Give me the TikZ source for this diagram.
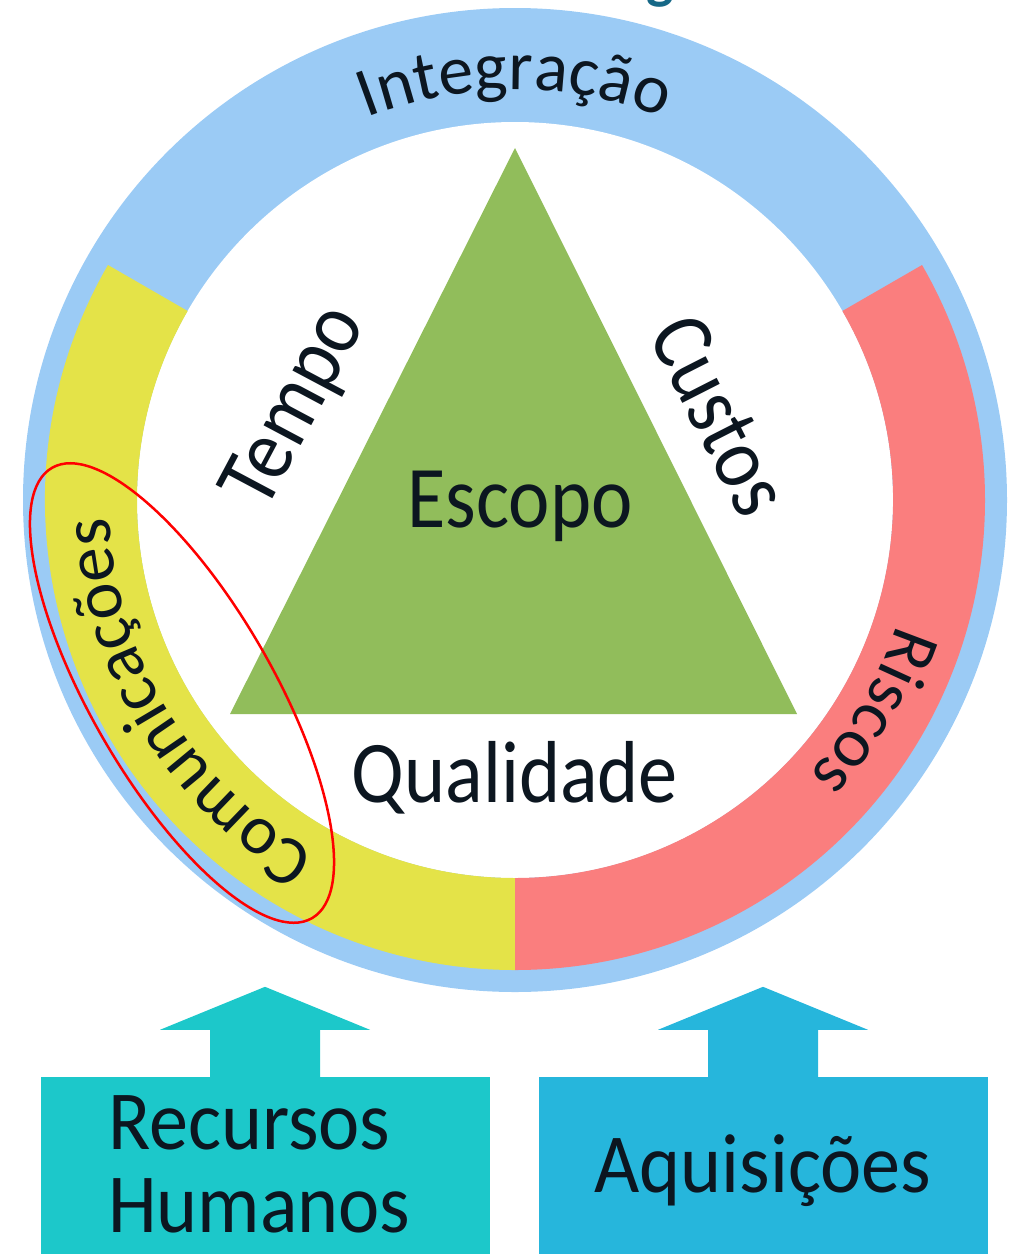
\documentclass[tikz,border=0pt]{standalone}
\usepackage{fontspec}
\setmainfont{Carlito}
\usetikzlibrary{decorations.text,shapes.geometric}
\definecolor{ringblue}{RGB}{155,203,245}
\definecolor{ringyellow}{RGB}{228,227,72}
\definecolor{ringred}{RGB}{250,126,126}
\definecolor{scopegreen}{RGB}{145,189,91}
\definecolor{hrteal}{RGB}{28,200,202}
\definecolor{acqblue}{RGB}{38,182,220}
\definecolor{inkdark}{RGB}{12,22,32}
\definecolor{titleteal}{RGB}{22,104,135}
\newcommand{\ringfnt}{\fontsize{70}{80}\selectfont}
\tikzset{
	sidelabel/.style={font=\fontsize{88}{96}\selectfont, text=inkdark, xscale=0.89, inner sep=0pt},
	boxlabel/.style={font=\fontsize{84}{83}\selectfont, text=inkdark, xscale=0.93, align=left, inner sep=0pt},
	boxfill/.style={inner sep=0pt, minimum height=193, minimum width=449},
	ringtext/.style={decorate, decoration={text along path, text align=center, text color=inkdark, text={|\ringfnt|#1}}}
}

\begin{document}
\begin{tikzpicture}[x=1pt, y=1pt]
		\useasboundingbox (0,0) rectangle (1012,-1254);
		\clip (0,0) rectangle (1012,-1254);
		\coordinate (c) at (515,-500);
		% ring
		\fill [ringblue] (c) circle [radius=492];
		\fill [white] (c) circle [radius=378];
		\fill [ringyellow] (c) ++(150:470) arc [start angle=150, end angle=270, radius=470] -- ([shift={(270:378)}]c) arc [start angle=270, end angle=150, radius=378] -- cycle;
		\fill [ringred] (c) ++(-90:470) arc [start angle=-90, end angle=30, radius=470] -- ([shift={(30:378)}]c) arc [start angle=30, end angle=-90, radius=378] -- cycle;
		\path [ringtext=Integração] (c) ++(150:410) arc [start angle=150, end angle=30, radius=410];
		\path [ringtext=Riscos] (c) ++(19.5:402) arc [start angle=19.5, end angle=-80.5, radius=402];
		\path [ringtext=Comunicações] (c) ++(261.5:406) arc [start angle=261.5, end angle=161.5, radius=406];
		% triangle
		\coordinate (apex) at (515,-148);
		\coordinate (bl) at (230,-714);
		\coordinate (br) at (797,-714);
		\fill [scopegreen] (apex) -- (br) -- (bl) -- cycle;
		\node [sidelabel, anchor=base] (escopo) at (520,-527) {Escopo};
		\node [sidelabel, anchor=base] (qualidade) at (515,-802) {Qualidade};
		\node [rotate=62, sidelabel] (tempo) at (297,-408) {Tempo};
		\node [rotate=-63, sidelabel] (custos) at (720,-415) {Custos};
		\node [ellipse, draw=red, line width=2.5pt, inner sep=0pt, minimum width=520, minimum height=182, rotate=-60] (mark) at (182,-693) {};
		% boxes
		\node [boxfill, fill=hrteal] (hrbox) at (265,-1173.5) {};
		\node [boxfill, fill=acqblue] (acqbox) at (763,-1173.5) {};
		\foreach \b/\c in {hrbox/hrteal, acqbox/acqblue}
			\fill [\c] ([xshift=-55]\b.north) |- ([xshift=-105, yshift=47]\b.north) -- ([yshift=90]\b.north) -- ([xshift=105, yshift=47]\b.north) -| ([xshift=55]\b.north) -- cycle;
		\node [boxlabel, anchor=north west] (hrtext) at (108,-1095) {Recursos\\Humanos};
		\node [boxlabel, anchor=base] (acqtext) at (763,-1192) {Aquisições};
		\node [font=\bfseries\fontsize{58}{60}\selectfont, text=titleteal, anchor=base] (title) at (660,3) {g};
	\end{tikzpicture}
\end{document}
